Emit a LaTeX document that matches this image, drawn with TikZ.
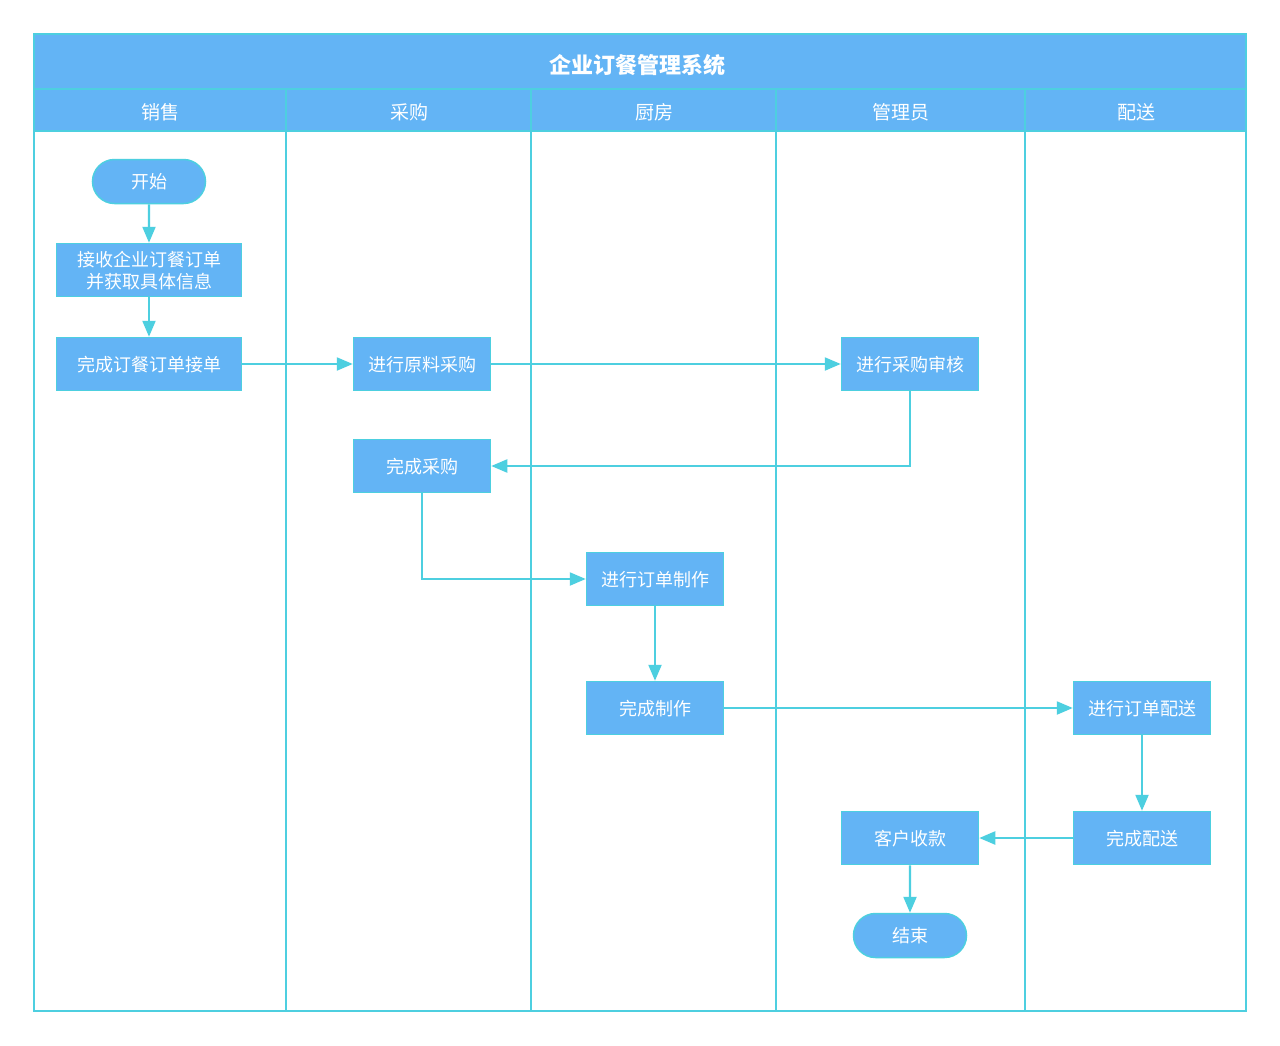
\documentclass[tikz,border=0pt]{standalone}
\usepackage{fontspec}
\newfontfamily\cjk{Noto Sans CJK SC}
\usepackage{xcolor}
\definecolor{maincolor}{HTML}{63B4F5}
\definecolor{linecolor}{HTML}{4DCFE0}
\colorlet{labelcolor}{white}
\usetikzlibrary{
  arrows.meta,
  shapes.misc,
  shapes,
}

\begin{document}
\begin{tikzpicture}[x=1pt,y=-1pt]
	\tikzstyle{every node}=[font=\cjk\fontsize{18}{22}\selectfont, text=labelcolor]
	\tikzstyle{stepbox}=[draw=linecolor, fill=maincolor, line width=1.5pt, minimum width=137pt, minimum height=53pt, inner sep=0pt, align=center, text depth=1pt]
	\tikzstyle{endbox}=[draw=linecolor, fill=maincolor, line width=1.5pt, shape=rounded rectangle, minimum width=113pt, minimum height=44pt, inner sep=0pt, text depth=1pt]
	\tikzstyle{flow}=[draw=linecolor, line width=2.2pt, -{Triangle[length=16pt,width=13pt]}]
	% canvas
	\useasboundingbox (0,0) rectangle (1280,1045);
	\fill [white] (0,0) rectangle (1280,1045);
	% basic structure
	\fill [maincolor] (34,34) rectangle (1246,131);
	\draw [linecolor, line width=2.5pt] (34,89) -- (1246,89);
	\draw [linecolor, line width=2.5pt] (34,131) -- (1246,131);
	\draw [linecolor, line width=2.5pt] (286,89) -- (286,1011);
	\draw [linecolor, line width=2.5pt] (531,89) -- (531,1011);
	\draw [linecolor, line width=2.5pt] (776,89) -- (776,1011);
	\draw [linecolor, line width=2.5pt] (1025,89) -- (1025,1011);
	\draw [linecolor, line width=2.5pt] (34,34) rectangle (1246,1011);
	% titles
	\node (title) at (637,65) {\fontsize{22}{24}\selectfont\bfseries 企业订餐管理系统};
	\node (lane1) at (160,112) {\fontsize{19}{22}\selectfont 销售};
	\node (lane2) at (409,112) {\fontsize{19}{22}\selectfont 采购};
	\node (lane3) at (654,112) {\fontsize{19}{22}\selectfont 厨房};
	\node (lane4) at (901,112) {\fontsize{19}{22}\selectfont 管理员};
	\node (lane5) at (1136,112) {\fontsize{19}{22}\selectfont 配送};
	% steps
	\node (start) [endbox] at (149,181.5) {开始};
	\node (recv) [stepbox, minimum width=185pt] at (149,270) {接收企业订餐订单\\并获取具体信息};
	\node (accept) [stepbox, minimum width=185pt] at (149,364) {完成订餐订单接单};
	\node (buy1) [stepbox] at (422,364) {进行原料采购};
	\node (audit) [stepbox] at (910,364) {进行采购审核};
	\node (buy2) [stepbox] at (422,466) {完成采购};
	\node (make1) [stepbox] at (655,579) {进行订单制作};
	\node (make2) [stepbox] at (655,708) {完成制作};
	\node (send1) [stepbox] at (1142,708) {进行订单配送};
	\node (send2) [stepbox] at (1142,838) {完成配送};
	\node (pay) [stepbox] at (910,838) {客户收款};
	\node (stop) [endbox] at (910,935.5) {结束};
	% connectors
	\draw [flow] (start) -- (recv);
	\draw [flow] (recv) -- (accept);
	\draw [flow] (accept) -- (buy1);
	\draw [flow] (buy1) -- (audit);
	\draw [flow] (audit) |- (buy2);
	\draw [flow] (buy2) |- (make1);
	\draw [flow] (make1) -- (make2);
	\draw [flow] (make2) -- (send1);
	\draw [flow] (send1) -- (send2);
	\draw [flow] (send2) -- (pay);
	\draw [flow] (pay) -- (stop);
\end{tikzpicture}
\end{document}
